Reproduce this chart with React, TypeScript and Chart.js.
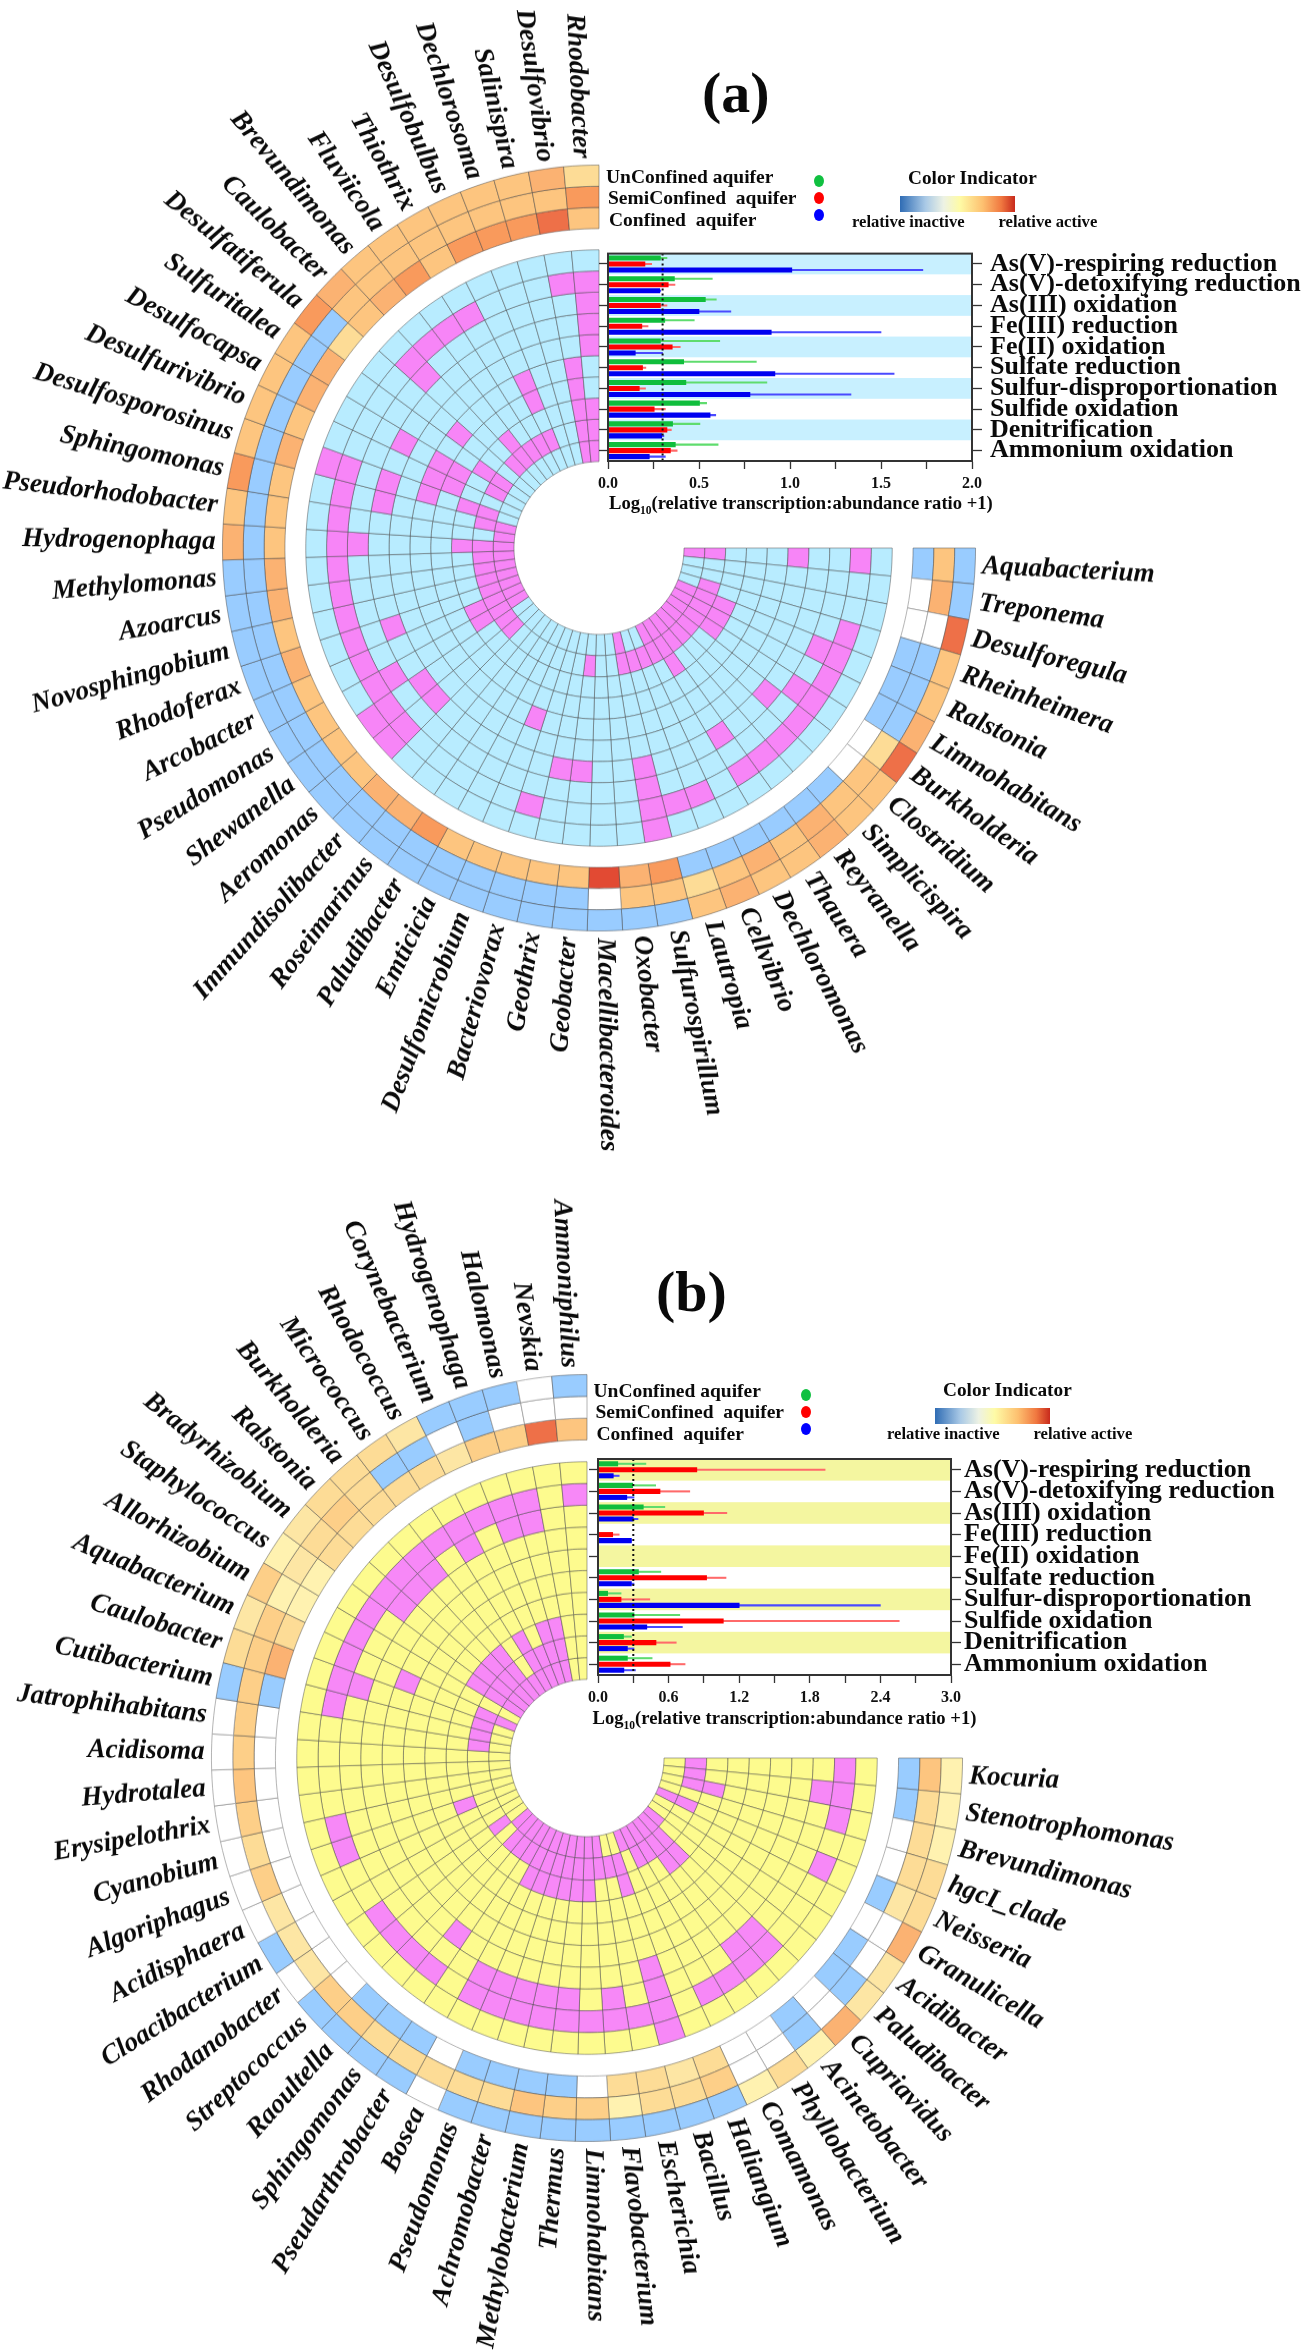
import React, { useEffect, useRef } from 'react';
import { Chart, registerables } from 'chart.js';
Chart.register(...registerables);

const SERIF = "'Liberation Serif'";
const processes = ['As(V)-respiring reduction','As(V)-detoxifying reduction','As(III) oxidation','Fe(III) reduction','Fe(II) oxidation','Sulfate reduction','Sulfur-disproportionation','Sulfide oxidation','Denitrification','Ammonium oxidation'];

// genera, listed from the top of each ring going counter-clockwise
const generaA = ['Rhodobacter','Desulfovibrio','Salinispira','Dechlorosoma','Desulfobulbus','Thiothrix','Fluviicola','Brevundimonas','Caulobacter','Desulfatiferula','Sulfuritalea','Desulfocapsa','Desulfurivibrio','Desulfosporosinus','Sphingomonas','Pseudorhodobacter','Hydrogenophaga','Methylomonas','Azoarcus','Novosphingobium','Rhodoferax','Arcobacter','Pseudomonas','Shewanella','Aeromonas','Immundisolibacter','Roseimarinus','Paludibacter','Emticicia','Desulfomicrobium','Bacteriovorax','Geothrix','Geobacter','Macellibacteroides','Oxobacter','Sulfurospirillum','Lautropia','Cellvibrio','Dechloromonas','Thauera','Reyranella','Simplicispira','Clostridium','Burkholderia','Limnohabitans','Ralstonia','Rheinheimera','Desulforegula','Treponema','Aquabacterium'];
const generaB = ['Ammoniphilus','Nevskia','Halomonas','Hydrogenophaga','Corynebacterium','Rhodococcus','Micrococcus','Burkholderia','Ralstonia','Bradyrhizobium','Staphylococcus','Allorhizobium','Aquabacterium','Caulobacter','Cutibacterium','Jatrophihabitans','Acidisoma','Hydrotalea','Erysipelothrix','Cyanobium','Algoriphagus','Acidisphaera','Cloacibacterium','Rhodanobacter','Streptococcus','Raoultella','Sphingomonas','Pseudarthrobacter','Bosea','Pseudomonas','Achromobacter','Methylobacterium','Thermus','Limnohabitans','Flavobacterium','Escherichia','Bacillus','Haliangium','Comamonas','Phyllobacterium','Acinetobacter','Cupriavidus','Paludibacter','Acidibacter','Granulicella','Neisseria','hgcI_clade','Brevundimonas','Stenotrophomonas','Kocuria'];

// activity class per genus: 0 absent, 1 inactive, 2..10 increasingly active
const activityColors = ['#FFFFFF','#99CCFF','#FFF2B0','#FDE6A4','#FDDC96','#FDCF88','#FDC57F','#FBB272','#F99A5C','#EE7048','#E24A33'];
const aUnconfined = [4,7,6,6,6,6,6,6,7,8, 6,6,6,6,8,6,7,1,1,1, 1,1,1,1,1,1,1,1,1,1, 1,1,1,1,1,1,6,7,6,6, 7,6,6,9,7,6,6,9,1,1];
const aSemi = [8,6,6,6,6,6,6,6,6,1, 1,1,1,1,1,1,1,1,1,1, 1,1,1,1,1,1,1,1,1,1, 1,1,1,0,6,6,4,6,7,6, 7,6,6,4,1,1,1,0,7,6];
const aConfined = [6,9,8,8,8,6,8,7,6,4, 7,7,6,7,6,6,6,7,7,6, 7,6,6,6,6,7,7,8,6,6, 6,6,6,10,7,8,1,1,1,1, 1,1,0,0,1,1,1,0,0,1];
const bUnconfined = [1,0,1,1,1,3,4,4,4,3, 2,5,3,4,1,0,0,0,0,0, 0,0,1,0,1,1,1,1,0,1, 1,1,1,1,1,1,1,1,2,4, 2,7,3,3,7,4,4,2,2,2];
const bSemi = [0,0,0,1,0,1,1,4,5,4, 3,2,5,5,5,5,5,6,5,4, 5,3,3,3,5,5,4,4,4,4, 4,6,5,5,2,4,4,5,0,0, 1,0,1,0,0,3,4,4,4,6];
const bConfined = [6,9,5,5,3,4,4,4,4,4, 2,2,4,7,1,0,0,0,0,0, 0,0,0,0,0,1,1,1,0,1, 1,1,1,0,4,4,3,4,0,0, 1,0,1,1,0,1,0,0,1,1];

// genus positions flagged as contributing to each process (outer row first)
const aActive = [
  [13,23,24,35],
  [0,1,5,6,7,8,13,14,15,16,17,18,19,20,21,22,23,24,30,35,36,37,39,40,41,42,43,44,45,46,49],
  [0,8,16,22,35,43,45],
  [0,11,13,14,20,23,24,31,32,35,39,42],
  [0,49],
  [1,4,9,11,12,13,29],
  [1,4,11,12],
  [0,1,7,10,13,16,21,22,39,43,44,45],
  [0,1,4,5,6,7,8,10,11,13,14,16,17,18,19,20,21,22,23,24,32,35,36,37,38,39,40,41,42,43,44,45,46,49],
  [0,1,14,15,16,17,18,19,20,21,22,35,38,39,40,41,42,43,44,45,49],
];
const bActive = [
  [36],
  [0,2,3,4,5,6,7,8,9,10,11,12,13,14,19,20,23,24,25,26,28,29,30,31,32,33,34,35,36,38,39,40,41,45,47,48,49],
  [2,3,5,7,8,9,13,28,29,30,31,32,34,36,40,41,48],
  [26,36],
  [12],
  [],
  [],
  [2,3,5,7,8,9,10,20,28,29,30,31,32,33,36,40,41,47],
  [2,3,4,5,7,8,9,10,12,13,14,15,23,25,26,27,28,29,30,31,32,33,34,35,36,38,39,40,41,45,47,48,49],
  [2,3,4,5,6,7,8,9,10,12,24,25,26,27,28,29,30,31,32,33,34,37,38,39,40,41,42,45],
];

// transcription:abundance bars: mean and upper error tip, per aquifer
const aUnMean = [.288,.365,.535,.312,.288,.416,.428,.503,.355,.37];
const aUnTip = [.324,.573,.595,.474,.614,.815,.873,.542,.505,.605];
const aSemiMean = [.203,.331,.288,.186,.353,.19,.172,.254,.324,.343];
const aSemiTip = [.24,.368,.324,.22,.397,.208,.206,.315,.348,.38];
const aConMean = [1.01,.285,.5,.897,.15,.917,.78,.561,.295,.227];
const aConTip = [1.73,.29,.675,1.5,.3,1.572,1.335,.592,.307,.315];
const bUnMean = [.168,.295,.385,0,0,.344,.082,.306,.217,.25];
const bUnTip = [.407,.49,.568,0,0,.534,.196,.695,.284,.46];
const bSemiMean = [.84,.527,.897,.125,0,.923,.196,1.065,.493,.613];
const bSemiTip = [1.93,.78,1.095,.18,0,1.088,.44,2.56,.665,.74];
const bConMean = [.13,.245,.3,.284,0,.284,1.2,.415,.25,.22];
const bConTip = [.18,.306,.34,.284,0,.306,2.4,.717,.306,.318];

const ringLabels = {
  id: 'ringLabels',
  afterDraw(chart: any) {
    const arcs = chart.getDatasetMeta(0).data;
    const ctx = chart.ctx;
    const labels = chart.data.labels;
    ctx.save();
    ctx.font = `italic bold 27px ${SERIF}`;
    ctx.fillStyle = '#0a0a0a';
    ctx.textBaseline = 'middle';
    arcs.forEach((arc: any, i: number) => {
      const mid = (arc.startAngle + arc.endAngle) / 2;
      const r = arc.outerRadius + 7;
      ctx.save();
      ctx.translate(arc.x + Math.cos(mid) * r, arc.y + Math.sin(mid) * r);
      if (mid > Math.PI / 2) {
        ctx.rotate(mid + Math.PI);
        ctx.textAlign = 'right';
      } else {
        ctx.rotate(mid);
        ctx.textAlign = 'left';
      }
      ctx.fillText(labels[i], 0, 0);
      ctx.restore();
    });
    ctx.restore();
  },
};

const bandFrame = {
  id: 'bandFrame',
  beforeDatasetsDraw(chart: any, _a: any, o: any) {
    const { ctx, chartArea: c, scales } = chart;
    const h = c.height / 10;
    ctx.save();
    ctx.fillStyle = o.band;
    for (let i = 0; i < 10; i += 2) {
      ctx.fillRect(c.left, scales.y.getPixelForValue(i) - h / 2, c.width, h);
    }
    ctx.restore();
  },
  afterDatasetsDraw(chart: any, _a: any, o: any) {
    const { ctx, chartArea: c, scales } = chart;
    ctx.save();
    const x = scales.x.getPixelForValue(o.threshold);
    ctx.strokeStyle = '#111';
    ctx.lineWidth = 2;
    ctx.setLineDash([2, 3]);
    ctx.beginPath();
    ctx.moveTo(x, c.top);
    ctx.lineTo(x, c.bottom);
    ctx.stroke();
    ctx.setLineDash([]);
    ctx.strokeStyle = '#333';
    ctx.strokeRect(c.left, c.top, c.width, c.height);
    ctx.restore();
  },
};

function Rings({ genera, outer, active, cx, cy, R, hole, stretch, top, height, base, pink }: any) {
  const ref = useRef<HTMLCanvasElement>(null);
  useEffect(() => {
    const labels = [...genera].reverse();
    const ones = labels.map(() => 1);
    const cellBorder = 'rgba(60,60,60,0.5)';
    const datasets: any[] = outer.map((ring: number[]) => {
      const rev = [...ring].reverse();
      return {
        data: ones,
        backgroundColor: rev.map((v) => activityColors[v]),
        borderColor: rev.map((v) => (v === 0 ? 'rgba(150,150,150,0.8)' : cellBorder)),
        borderWidth: 0.9,
      };
    });
    datasets.push({ data: ones, backgroundColor: 'rgba(0,0,0,0)', borderWidth: 0 });
    active.forEach((list: number[]) => {
      const cells = genera.map((_: string, i: number) => (list.includes(i) ? pink : base)).reverse();
      datasets.push({ data: ones, backgroundColor: cells, borderColor: cellBorder, borderWidth: 0.9 });
    });
    const W = 1310;
    const chart = new Chart(ref.current as any, {
      type: 'doughnut',
      data: { labels, datasets },
      options: {
        responsive: false,
        animation: false,
        rotation: 90,
        circumference: 270,
        cutout: hole,
        layout: { padding: { left: cx - R, right: W - cx - R, top: cy - top - R, bottom: top + height - cy - R } },
        plugins: { legend: { display: false }, tooltip: { enabled: false } },
      } as any,
      plugins: [ringLabels],
    });
    return () => chart.destroy();
  }, []);
  return (
    <canvas
      ref={ref}
      width={1310}
      height={height}
      style={{ position: 'absolute', left: 0, top, width: 1310, height, transform: `scaleY(${stretch})`, transformOrigin: `0 ${cy - top}px` }}
    />
  );
}

function Bars({ series, left, right, top, bottom, xMax, step, major, band, tickPad }: any) {
  const ref = useRef<HTMLCanvasElement>(null);
  const cLeft = left - 18;
  const cTop = top - 19;
  const cW = 1310 - cLeft;
  const cH = bottom - top + 19 + 69;
  useEffect(() => {
    const datasets: any[] = [];
    series.forEach((s: any) => {
      datasets.push({ label: s.name, stack: s.name, data: s.mean, backgroundColor: s.color, barThickness: 6, maxBarThickness: 4.4 });
      datasets.push({ label: s.name + ' error', stack: s.name, data: s.tip.map((t: number, i: number) => Math.max(t - s.mean[i], 0)), backgroundColor: s.light, barThickness: 6, maxBarThickness: 1.4 });
    });
    const axisFont = { family: SERIF, weight: 'bold' as const, size: 16 };
    const chart = new Chart(ref.current as any, {
      type: 'bar',
      data: { labels: processes, datasets },
      options: {
        indexAxis: 'y',
        responsive: false,
        animation: false,
        layout: { padding: { top: 19, left: 0, right: 0, bottom: 0 } },
        scales: {
          x: {
            type: 'linear', min: 0, max: xMax, stacked: true, position: 'bottom',
            grid: { drawOnChartArea: false, tickLength: 8, color: '#333', tickWidth: 1.3 },
            border: { color: '#333', width: 2 },
            ticks: {
              stepSize: step, autoSkip: false, maxRotation: 0, color: '#111', font: axisFont, padding: 5,
              callback: (v: number) => (Math.abs(v / major - Math.round(v / major)) < 1e-6 ? v.toFixed(1) : ''),
            },
            afterFit: (a: any) => { a.height = 69; },
          },
          y: {
            type: 'category', labels: processes, stacked: true, position: 'left', offset: true,
            grid: { offset: false, drawOnChartArea: false, tickLength: 9, color: '#333', tickWidth: 1.3 },
            border: { color: '#333', width: 2 },
            ticks: { callback: () => '', padding: 0 },
            afterFit: (a: any) => { a.width = 18; },
          },
          y2: {
            type: 'category', axis: 'y', labels: processes, position: 'right', offset: true,
            grid: { offset: false, drawOnChartArea: false, tickLength: 10, color: '#333', tickWidth: 1.3 },
            border: { color: '#333', width: 2 },
            ticks: { color: '#0a0a0a', padding: tickPad, autoSkip: false, font: { family: SERIF, weight: 'bold' as const, size: 26 } },
            afterFit: (a: any) => { a.width = 1310 - right; },
          },
        },
        plugins: { legend: { display: false }, tooltip: { enabled: false }, bandFrame: { band, threshold: 0.3 } },
      } as any,
      plugins: [bandFrame],
    });
    return () => chart.destroy();
  }, []);
  return <canvas ref={ref} width={cW} height={cH} style={{ position: 'absolute', left: cLeft, top: cTop, width: cW, height: cH }} />;
}

const text = (s: any, left: number, cy: number, size: number, extra: any = {}) => (
  <div style={{ position: 'absolute', left, top: cy - size, height: size * 2, lineHeight: `${size * 2}px`, fontFamily: SERIF, fontWeight: 'bold', fontSize: size, whiteSpace: 'nowrap', color: '#0a0a0a', ...extra }}>{s}</div>
);
const dot = (x: number, y: number, c: string) => (
  <div style={{ position: 'absolute', left: x - 5, top: y - 6, width: 10, height: 12, borderRadius: '50%', background: c }} />
);

function Legend({ dx, dy, bx, by }: any) {
  return (
    <>
      {text('UnConfined aquifer', 606 + dx, 176 + dy, 19.5)}
      {text('SemiConfined  aquifer', 608 + dx, 197 + dy, 19.5, { whiteSpace: 'pre' })}
      {text('Confined  aquifer', 609 + dx, 219 + dy, 19.5, { whiteSpace: 'pre' })}
      {dot(818.5 + dx, 181 + dy, '#10C040')}
      {dot(818.5 + dx, 198 + dy, '#FF0000')}
      {dot(818.5 + dx, 215 + dy, '#0000FF')}
      {text('Color Indicator', 908 + bx, 178 + by, 19.3)}
      <div style={{ position: 'absolute', left: 899.5 + bx, top: 196 + by, width: 115.5, height: 16, background: 'linear-gradient(90deg,#2F6CB4 0%,#A9C9E6 22%,#EDF2E4 38%,#FEFBA6 52%,#FDC070 72%,#F07840 88%,#C82A1C 100%)' }} />
      {text('relative inactive', 852 + bx, 222 + by, 16.6)}
      {text('relative active', 998.5 + bx, 222 + by, 16.6)}
    </>
  );
}

const axisTitle = (left: number, cy: number) =>
  text(<>Log<sub style={{ fontSize: 11.5, lineHeight: 0 }}>10</sub>(relative transcription:abundance ratio +1)</>, left, cy, 18.6);

const green = ['#10BE3C', '#5FDC6E'];
const red = ['#FF0000', '#FF6A6A'];
const blue = ['#0000F0', '#4A4AFF'];

export default function App() {
  const seriesA = [
    { name: 'UnConfined aquifer', mean: aUnMean, tip: aUnTip, color: green[0], light: green[1] },
    { name: 'SemiConfined aquifer', mean: aSemiMean, tip: aSemiTip, color: red[0], light: red[1] },
    { name: 'Confined aquifer', mean: aConMean, tip: aConTip, color: blue[0], light: blue[1] },
  ];
  const seriesB = [
    { name: 'UnConfined aquifer', mean: bUnMean, tip: bUnTip, color: green[0], light: green[1] },
    { name: 'SemiConfined aquifer', mean: bSemiMean, tip: bSemiTip, color: red[0], light: red[1] },
    { name: 'Confined aquifer', mean: bConMean, tip: bConTip, color: blue[0], light: blue[1] },
  ];
  return (
    <div style={{ position: 'absolute', left: 0, top: 0, width: 1310, height: 2350, overflow: 'hidden', background: '#fff' }}>
      <Rings genera={generaA} outer={[aUnconfined, aSemi, aConfined]} active={aActive} cx={599} cy={548} R={377} hole={85} stretch={1.017} top={0} height={1170} base="#B8ECFF" pink="#F785F7" />
      <Rings genera={generaB} outer={[bUnconfined, bSemi, bConfined]} active={bActive} cx={587} cy={1758} R={376} hole={77} stretch={1.021} top={1170} height={1180} base="#FDFB8E" pink="#F788F7" />
      <Bars series={seriesA} left={608} right={972} top={249} bottom={461} xMax={2} step={0.25} major={0.5} band="#C8F0FF" tickPad={8} />
      <Bars series={seriesB} left={597.6} right={951} top={1459} bottom={1675} xMax={3} step={0.3} major={0.6} band="#F4F6A0" tickPad={3} />
      <Legend dx={0} dy={0} bx={0} by={0} />
      <Legend dx={-12.5} dy={1214} bx={35} by={1212} />
      {axisTitle(609, 503)}
      {axisTitle(592.6, 1717.7)}
      {text('(a)', 702, 93, 58)}
      {text('(b)', 656, 1292, 58)}
    </div>
  );
}
